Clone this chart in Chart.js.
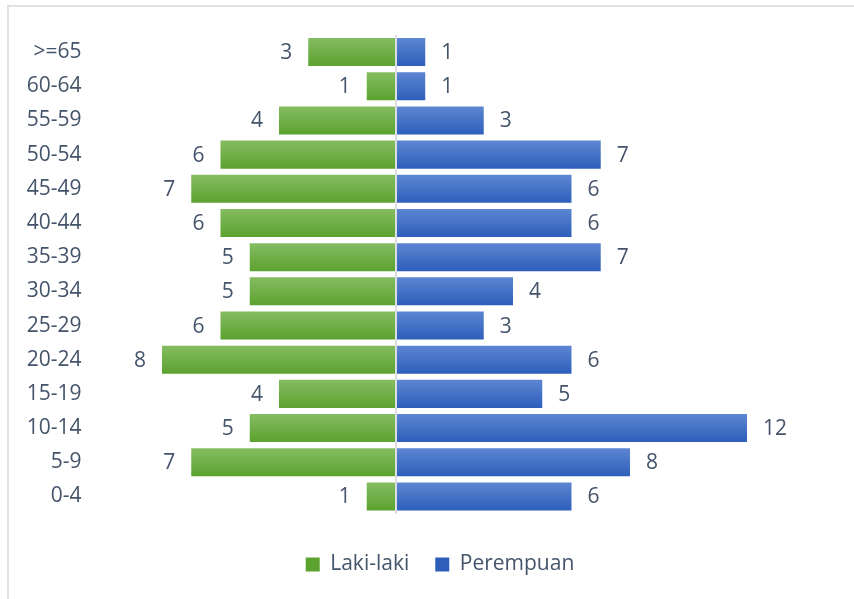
<!DOCTYPE html>
<html>
<head>
<meta charset="utf-8">
<script src="https://cdn.jsdelivr.net/npm/chart.js@4/dist/chart.umd.min.js"></script>
<style>
  html, body { margin: 0; padding: 0; background: #fff; overflow: hidden; width: 854px; height: 599px; }
  #frame { position: absolute; left: 7px; top: 5px; border-left: 2px solid #dfe3e8; border-top: 2px solid #dfe3e8; }
  canvas { display: block; }
</style>
</head>
<body>
<div id="frame"><canvas id="chart" width="862" height="592"></canvas></div>
<script>
const ageGroups = ['>=65', '60-64', '55-59', '50-54', '45-49', '40-44', '35-39', '30-34', '25-29', '20-24', '15-19', '10-14', '5-9', '0-4'];
const male = [3, 1, 4, 6, 7, 6, 5, 5, 6, 8, 4, 5, 7, 1];
const female = [1, 1, 3, 7, 6, 6, 7, 4, 3, 6, 5, 12, 8, 6];

const TEXT = '#44546a';
const FONT = { family: 'Open Sans', size: 21 };
const BAR_PCT = 0.82;

// vertical gradient per bar, like the excel fill
function barFill(top, bottom, flat) {
    return (c) => {
        const chart = c.chart;
        const y = chart.scales.y;
        if (c.type !== 'data' || !chart.chartArea || !y) return flat;
        const mid = y.getPixelForValue(c.dataIndex);
        const half = Math.abs(y.getPixelForValue(1) - y.getPixelForValue(0)) * BAR_PCT / 2;
        const g = chart.ctx.createLinearGradient(0, mid - half, 0, mid + half);
        g.addColorStop(0, top);
        g.addColorStop(1, bottom);
        return g;
    };
}

const valueLabels = {
    id: 'valueLabels',
    afterDatasetsDraw(chart) {
        const ctx = chart.ctx;
        ctx.save();
        ctx.font = `${FONT.size}px "${FONT.family}"`;
        ctx.fillStyle = TEXT;
        ctx.textBaseline = 'middle';
        chart.data.datasets.forEach((ds, i) => {
            chart.getDatasetMeta(i).data.forEach((bar, j) => {
                const v = Math.abs(ds.data[j]);
                if (ds.data[j] < 0) {
                    ctx.textAlign = 'right';
                    ctx.fillText(v, bar.x - 16, bar.y + 1);
                } else {
                    ctx.textAlign = 'left';
                    ctx.fillText(v, bar.x + 16, bar.y + 1);
                }
            });
        });
        ctx.restore();
    }
};

new Chart(document.getElementById('chart'), {
    type: 'bar',
    data: {
        labels: ageGroups,
        datasets: [
            {
                label: 'Laki-laki',
                data: male.map(v => -v),
                backgroundColor: barFill('#85bc62', '#5ca22f', '#70b046'),
                borderWidth: 0,
                categoryPercentage: 1,
                barPercentage: BAR_PCT
            },
            {
                label: 'Perempuan',
                data: female,
                backgroundColor: barFill('#5d86d2', '#2d5eba', '#4472c4'),
                borderWidth: 0,
                categoryPercentage: 1,
                barPercentage: BAR_PCT
            }
        ]
    },
    options: {
        indexAxis: 'y',
        responsive: false,
        animation: false,
        layout: { padding: { top: 28, left: 0, right: 0, bottom: 14 } },
        plugins: {
            legend: {
                position: 'bottom',
                labels: {
                    color: TEXT,
                    font: FONT,
                    boxWidth: 14,
                    boxHeight: 14,
                    padding: 26
                }
            },
            tooltip: { enabled: false }
        },
        scales: {
            x: {
                stacked: true,
                min: -10,
                max: 16.24,
                ticks: { display: false, stepSize: 5 },
                border: { display: false },
                grid: {
                    z: 1,
                    drawTicks: false,
                    lineWidth: 2,
                    color: (c) => c.tick && c.tick.value === 0 ? '#dadde2' : 'rgba(0,0,0,0)'
                },
                afterFit(s) { s.height = 14.5; s.paddingLeft = 0; s.paddingRight = 0; }
            },
            y: {
                stacked: true,
                ticks: { color: TEXT, font: FONT, padding: 22 },
                grid: { display: false, drawTicks: false },
                border: { display: false },
                afterFit(s) { s.width = 94.5; s.paddingTop = 0; s.paddingBottom = 0; }
            }
        }
    },
    plugins: [valueLabels]
});
</script>
</body>
</html>
